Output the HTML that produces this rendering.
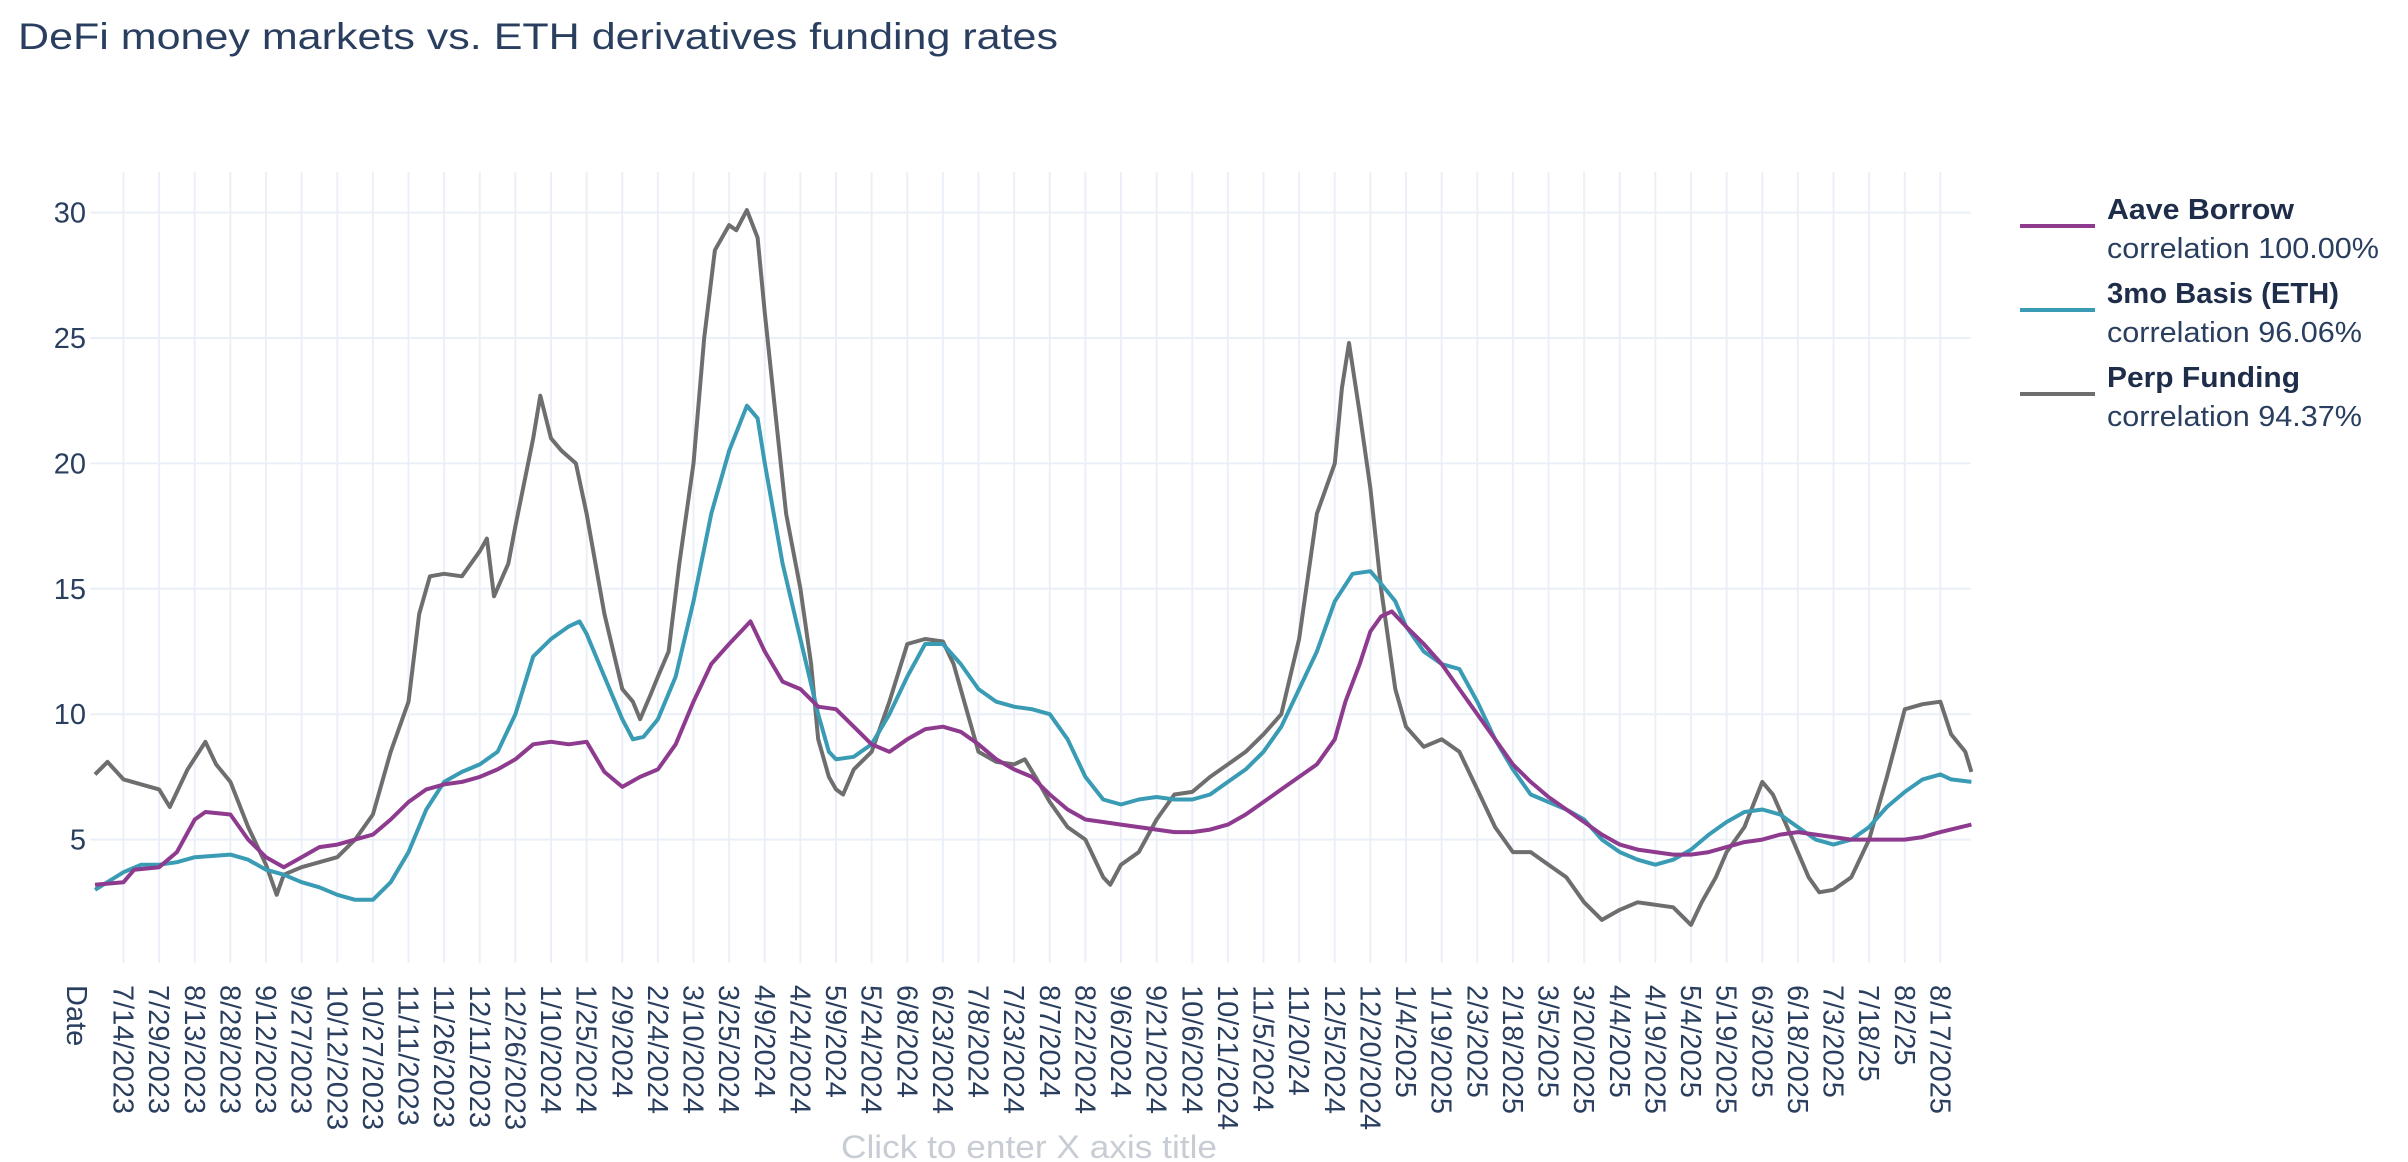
<!DOCTYPE html>
<html><head><meta charset="utf-8"><style>
html,body{margin:0;padding:0;background:#fff;}
svg{display:block;font-family:"Liberation Sans",sans-serif;}
</style></head><body>
<svg id="chart" width="2408" height="1162" viewBox="0 0 2408 1162" xmlns="http://www.w3.org/2000/svg">
<text x="18" y="49" font-size="37" fill="#2a3f5f" textLength="1040" lengthAdjust="spacingAndGlyphs">DeFi money markets vs. ETH derivatives funding rates</text>
<g id="grid"></g>
<g id="yticks"></g>
<g id="xticks"></g>
<g id="lines"></g>
<text x="1029" y="1158" font-size="32" fill="#c8ccd4" text-anchor="middle" textLength="376" lengthAdjust="spacingAndGlyphs">Click to enter X axis title</text>
<g>
 <g>
  <line x1="2020" y1="226" x2="2095" y2="226" stroke="#8e3a8e" stroke-width="4"/>
  <text x="2107" y="219" font-size="29" font-weight="bold" fill="#1e2d4a" textLength="187" lengthAdjust="spacingAndGlyphs">Aave Borrow</text>
  <text x="2107" y="258" font-size="29" fill="#2a3f5f" textLength="272" lengthAdjust="spacingAndGlyphs">correlation 100.00%</text>
 </g>
 <g>
  <line x1="2020" y1="310" x2="2095" y2="310" stroke="#3a9bb5" stroke-width="4"/>
  <text x="2107" y="303" font-size="29" font-weight="bold" fill="#1e2d4a" textLength="232" lengthAdjust="spacingAndGlyphs">3mo Basis (ETH)</text>
  <text x="2107" y="342" font-size="29" fill="#2a3f5f" textLength="255" lengthAdjust="spacingAndGlyphs">correlation 96.06%</text>
 </g>
 <g>
  <line x1="2020" y1="394" x2="2095" y2="394" stroke="#6e6e6e" stroke-width="4"/>
  <text x="2107" y="387" font-size="29" font-weight="bold" fill="#1e2d4a" textLength="193" lengthAdjust="spacingAndGlyphs">Perp Funding</text>
  <text x="2107" y="426" font-size="29" fill="#2a3f5f" textLength="255" lengthAdjust="spacingAndGlyphs">correlation 94.37%</text>
 </g>
</g>
</svg>
<script>
const xTickLabels = ["7/14/2023","7/29/2023","8/13/2023","8/28/2023","9/12/2023","9/27/2023","10/12/2023","10/27/2023","11/11/2023","11/26/2023","12/11/2023","12/26/2023","1/10/2024","1/25/2024","2/9/2024","2/24/2024","3/10/2024","3/25/2024","4/9/2024","4/24/2024","5/9/2024","5/24/2024","6/8/2024","6/23/2024","7/8/2024","7/23/2024","8/7/2024","8/22/2024","9/6/2024","9/21/2024","10/6/2024","10/21/2024","11/5/2024","11/20/24","12/5/2024","12/20/2024","1/4/2025","1/19/2025","2/3/2025","2/18/2025","3/5/2025","3/20/2025","4/4/2025","4/19/2025","5/4/2025","5/19/2025","6/3/2025","6/18/2025","7/3/2025","7/18/25","8/2/25","8/17/2025"];
const yTicks = [5,10,15,20,25,30];
// x positions are in tick-index units (0 = 7/14/2023, one step = 15 days)
const aaveX = [-0.8,0,0.3,1,1.5,2,2.3,3,3.5,4,4.5,5,5.5,6,6.5,7,7.5,8,8.5,9,9.5,10,10.5,11,11.5,12,12.5,13,13.5,14,14.5,15,15.5,16,16.5,17,17.6,18,18.5,19,19.5,20,20.5,21,21.5,22,22.5,23,23.5,24,24.5,25,25.5,26,26.5,27,27.5,28,28.5,29,29.5,30,30.5,31,31.5,32,32.5,33,33.5,34,34.3,34.7,35,35.3,35.6,36,36.5,37,37.5,38,38.5,39,39.5,40,40.5,41,41.5,42,42.5,43,43.5,44,44.5,45,45.5,46,46.5,47,47.5,48,48.5,49,49.5,50,50.5,51,51.87];
const aaveV = [3.2,3.3,3.8,3.9,4.5,5.8,6.1,6.0,5.0,4.3,3.9,4.3,4.7,4.8,5.0,5.2,5.8,6.5,7.0,7.2,7.3,7.5,7.8,8.2,8.8,8.9,8.8,8.9,7.7,7.1,7.5,7.8,8.8,10.5,12,12.8,13.7,12.5,11.3,11,10.3,10.2,9.5,8.8,8.5,9.0,9.4,9.5,9.3,8.8,8.2,7.8,7.5,6.8,6.2,5.8,5.7,5.6,5.5,5.4,5.3,5.3,5.4,5.6,6.0,6.5,7.0,7.5,8.0,9.0,10.5,12,13.3,13.9,14.1,13.5,12.8,12,11,10,9,8.0,7.3,6.7,6.2,5.7,5.2,4.8,4.6,4.5,4.4,4.4,4.5,4.7,4.9,5.0,5.2,5.3,5.2,5.1,5.0,5.0,5.0,5.0,5.1,5.3,5.6];
const basisX = [-0.8,0,0.5,1,1.5,2,3,3.5,4,4.5,5,5.5,6,6.5,7,7.5,8,8.5,9,9.5,10,10.5,11,11.5,12,12.5,12.8,13,13.5,14,14.3,14.6,15,15.5,16,16.5,17,17.5,17.8,18,18.5,19,19.5,19.8,20,20.5,21,21.5,22,22.5,23,23.5,24,24.5,25,25.5,26,26.5,27,27.5,28,28.5,29,29.5,30,30.5,31,31.5,32,32.5,33,33.5,34,34.5,35,35.3,35.7,36,36.5,37,37.5,38,38.5,39,39.5,40,40.5,41,41.5,42,42.5,43,43.5,44,44.5,45,45.5,46,46.5,47,47.5,48,48.5,49,49.5,50,50.5,51,51.3,51.87];
const basisV = [3.0,3.7,4.0,4.0,4.1,4.3,4.4,4.2,3.8,3.6,3.3,3.1,2.8,2.6,2.6,3.3,4.5,6.2,7.3,7.7,8.0,8.5,10.0,12.3,13.0,13.5,13.7,13.2,11.5,9.8,9.0,9.1,9.8,11.5,14.5,18,20.5,22.3,21.8,20,16,13,10,8.5,8.2,8.3,8.8,10,11.5,12.8,12.8,12,11,10.5,10.3,10.2,10.0,9.0,7.5,6.6,6.4,6.6,6.7,6.6,6.6,6.8,7.3,7.8,8.5,9.5,11,12.5,14.5,15.6,15.7,15.2,14.5,13.5,12.5,12.0,11.8,10.5,9,7.8,6.8,6.5,6.2,5.8,5.0,4.5,4.2,4.0,4.2,4.6,5.2,5.7,6.1,6.2,6.0,5.5,5.0,4.8,5.0,5.5,6.3,6.9,7.4,7.6,7.4,7.3];
const perpX = [-0.8,-0.45,0,0.5,1,1.3,1.8,2.3,2.6,3,3.5,4,4.3,4.5,5,5.5,6,6.5,7,7.5,8,8.3,8.6,9,9.5,10,10.2,10.4,10.8,11,11.5,11.7,12,12.3,12.7,13,13.5,14,14.3,14.5,14.8,15,15.3,15.6,16,16.3,16.6,17,17.2,17.5,17.8,18,18.3,18.6,19,19.3,19.5,19.8,20,20.2,20.5,21,21.5,22,22.5,23,23.3,23.7,24,24.5,25,25.3,25.6,26,26.5,27,27.5,27.7,28,28.5,29,29.5,30,30.5,31,31.5,32,32.5,33,33.5,34,34.2,34.4,34.7,35,35.3,35.5,35.7,36,36.5,37,37.5,38,38.5,39,39.5,40,40.5,41,41.5,42,42.5,43,43.5,44,44.3,44.7,45,45.5,46,46.3,46.7,47,47.3,47.6,48,48.5,49,49.5,50,50.5,51,51.3,51.7,51.87];
const perpV = [7.6,8.1,7.4,7.2,7.0,6.3,7.8,8.9,8.0,7.3,5.5,4.0,2.8,3.6,3.9,4.1,4.3,5.0,6.0,8.5,10.5,14,15.5,15.6,15.5,16.5,17,14.7,16,17.5,21,22.7,21,20.5,20,18,14,11,10.5,9.8,10.8,11.5,12.5,16,20,25,28.5,29.5,29.3,30.1,29,26,22,18,15,12,9,7.5,7,6.8,7.8,8.5,10.5,12.8,13.0,12.9,12,10,8.5,8.1,8.0,8.2,7.5,6.5,5.5,5.0,3.5,3.2,4.0,4.5,5.8,6.8,6.9,7.5,8.0,8.5,9.2,10,13,18,20,23,24.8,22,19,15,13,11,9.5,8.7,9.0,8.5,7.0,5.5,4.5,4.5,4.0,3.5,2.5,1.8,2.2,2.5,2.4,2.3,1.6,2.5,3.5,4.5,5.5,7.3,6.8,5.5,4.5,3.5,2.9,3.0,3.5,5.0,7.5,10.2,10.4,10.5,9.2,8.5,7.7];

const NS = "http://www.w3.org/2000/svg";
const plotL = 90, plotR = 1971, plotT = 172, plotB = 963;
function xScale(k){ return 95 + (12 + 15*k) * 2.375; }
function yScale(v){ return 965 - v * 25.08; }
function mk(tag, attrs, parent){ const e = document.createElementNS(NS, tag); for (const a in attrs) e.setAttribute(a, attrs[a]); parent.appendChild(e); return e; }

const grid = document.getElementById('grid');
const yt = document.getElementById('yticks');
const xt = document.getElementById('xticks');
const lines = document.getElementById('lines');

yTicks.forEach(v => {
  const y = yScale(v);
  const gl = mk('line', {x1: plotL, x2: plotR, y1: y, y2: y, stroke: '#ebf0f8', 'stroke-width': 2}, grid);
  
  
  const t = mk('text', {x: 86, y: y + 10, 'font-size': 29, fill: '#2a3f5f', 'text-anchor': 'end'}, yt);
  t.textContent = v;
  
  
});

function addXLabel(x, txt){
  const t = mk('text', {x: 0, y: 0, 'font-size': 29, fill: '#2a3f5f', transform: 'translate(' + (x - 10) + ',985) rotate(90)'}, xt);
  t.textContent = txt;
  
  
}
addXLabel(77, 'Date');
xTickLabels.forEach((lab, i) => {
  const x = xScale(i);
  const gl = mk('line', {x1: x, x2: x, y1: plotT, y2: plotB, stroke: '#ebf0f8', 'stroke-width': 2}, grid);
  
  
  addXLabel(x, lab);
});

function drawSeries(xs, vs, color, name){
  const d = xs.map((k, i) => (i ? 'L' : 'M') + xScale(k).toFixed(1) + ',' + yScale(vs[i]).toFixed(1)).join(' ');
  const p = mk('path', {d: d, fill: 'none', stroke: color, 'stroke-width': 4, 'stroke-linejoin': 'round'}, lines);
  
  
}
drawSeries(perpX, perpV, '#6e6e6e', 'perp-funding-line');
drawSeries(basisX, basisV, '#3a9bb5', 'basis-3mo-line');
drawSeries(aaveX, aaveV, '#8e3a8e', 'aave-borrow-line');
</script>
</body></html>
